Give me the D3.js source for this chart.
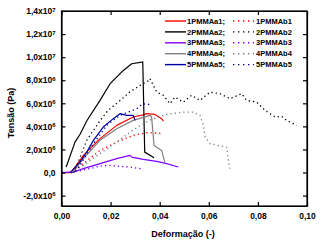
<!DOCTYPE html>
<html>
<head>
<meta charset="utf-8">
<script src="https://cdn.jsdelivr.net/npm/d3@7"></script>
<style>
  body { margin: 0; background: #fff; }
  svg { font-family: Arial, "Liberation Sans", sans-serif; font-weight: bold; }
  .axis path, .axis line { stroke: #000; stroke-width: 1.2; }
  .axis text { font-size: 8.5px; font-weight: bold; fill: #000; }
</style>
</head>
<body>
<div id="chart-area"></div>
<script>

// DATA

var seriesNames = ["1PMMAa1", "2PMMAa2", "3PMMAa3", "4PMMAa4", "5PMMAa5",
                   "1PMMAb1", "2PMMAb2", "3PMMAb3", "4PMMAb4", "5PMMAb5"];

var seriesColors = ["#ff0000", "#000000", "#8000ff", "#808080", "#0000a0"];

// strain (-), stress (Pa)
var a1 = [[0,0],[0.004,0],[0.0089,1.49e6],[0.0157,2.94e6],[0.0225,4.09e6],[0.0292,4.81e6],
          [0.0333,5.0e6],[0.0347,5.1e6],[0.0381,5.04e6],[0.0408,4.67e6],[0.0415,4.46e6]];
var a2 = [[0.0019,0.48e6],[0.0055,2.64e6],[0.0075,3.3e6],[0.0105,4.55e6],[0.0157,6.25e6],
          [0.0198,7.7e6],[0.0252,8.85e6],[0.0286,9.43e6],[0.0327,9.57e6],[0.0331,9.59e6],
          [0.0339,1.77e6],[0.0377,1.29e6]];
var a3 = [[0,0],[0.005,0.05e6],[0.0089,0.34e6],[0.0157,0.77e6],[0.0225,1.2e6],[0.0279,1.49e6],
          [0.0286,1.34e6],[0.0333,1.14e6],[0.0388,0.97e6],[0.0428,0.77e6],[0.0476,0.48e6]];
var a4 = [[0.0045,0],[0.0089,1.2e6],[0.0157,2.79e6],[0.0225,3.8e6],[0.0292,4.52e6],
          [0.0347,4.87e6],[0.0363,4.95e6],[0.0367,4.8e6],[0.0377,2.35e6],[0.0408,1.92e6],[0.0422,0.77e6]];
var a5 = [[0.0035,0],[0.0075,0.9e6],[0.0103,1.78e6],[0.013,2.79e6],[0.017,3.94e6],[0.0211,4.67e6],
          [0.0238,5.1e6],[0.0266,4.95e6],[0.0292,4.95e6],[0.030,4.52e6]];

var b1 = [[0.004,0],[0.0089,0.77e6],[0.0157,1.92e6],[0.0225,2.64e6],[0.0292,3.22e6],
          [0.0347,3.45e6],[0.0394,3.42e6],[0.041,3.35e6]];
var b2 = [[0.005,0],[0.0062,0.6e6],[0.0103,2.8e6],[0.0157,4.5e6],[0.019,5.4e6],[0.0231,6.1e6],
          [0.0279,7.0e6],[0.032,7.55e6],[0.0354,7.95e6],[0.036,8.15e6],[0.0388,6.97e6],
          [0.0415,6.69e6],[0.0442,5.97e6],[0.0462,6.54e6],[0.0496,6.1e6],[0.053,6.69e6],
          [0.0564,6.25e6],[0.0605,6.97e6],[0.0646,6.83e6],[0.0686,6.4e6],[0.0734,6.83e6],
          [0.0754,6.25e6],[0.0795,6.1e6],[0.0829,5.39e6],[0.087,4.81e6],[0.0897,4.87e6],
          [0.0917,4.52e6],[0.0958,4.09e6]];
var b3 = [[0.004,0],[0.0116,0.34e6],[0.0157,0.56e6],[0.0198,0.62e6],[0.0238,0.54e6],
          [0.0279,0.48e6],[0.032,0.34e6],[0.0333,0.19e6]];
var b4 = [[0.004,0],[0.0089,0.62e6],[0.0157,1.64e6],[0.0225,2.64e6],[0.0292,3.7e6],
          [0.036,4.55e6],[0.0428,5.04e6],[0.0496,5.24e6],[0.0537,5.24e6],[0.0564,4.95e6],
          [0.0578,4.09e6],[0.0585,3.07e6],[0.0605,2.5e6],[0.0673,2.2e6],[0.068,1.06e6],[0.0686,0.34e6]];
var b5 = [[0.004,0],[0.0062,0.19e6],[0.013,2.5e6],[0.0184,4.09e6],[0.0238,4.95e6],
          [0.0306,5.53e6],[0.0327,5.9e6],[0.0347,5.97e6],[0.0367,5.82e6]];

var seriesData = [a1, a2, a3, a4, a5, b1, b2, b3, b4, b5];

var xTicks = [0, 0.02, 0.04, 0.06, 0.08, 0.10];
var yTicks = [-2e6, 0, 2e6, 4e6, 6e6, 8e6, 1e7, 1.2e7, 1.4e7];


// CHART AREA

var margin = {top: 11, right: 13, bottom: 41, left: 61.5},
    width = 320 - margin.left - margin.right,
    height = 247 - margin.top - margin.bottom;

var svg = d3.select("#chart-area").append("svg")
    .attr("width", 320)
    .attr("height", 247)
    .append("g")
    .attr("transform", "translate(" + margin.left + "," + margin.top + ")");


// SCALES

var x = d3.scaleLinear()
    .domain([0, 0.1])
    .range([0, width]);

var y = d3.scaleLinear()
    .domain([-2.9e6, 1.4e7])
    .range([height, 0]);


// CURVES

var line = d3.line()
    .x(function(d) { return x(d[0]); })
    .y(function(d) { return y(d[1]); });

seriesData.forEach(function(data, i) {
    var dotted = i >= 5;
    svg.append("path")
        .datum(data)
        .attr("fill", "none")
        .attr("stroke", seriesColors[i % 5])
        .attr("stroke-width", dotted ? 1.3 : 1.2)
        .attr("stroke-dasharray", dotted ? "1.3,3" : null)
        .attr("stroke-linejoin", "round")
        .attr("d", line);
});


// AXES (ticks inside, mirrored)

function yLabel(sel) {
    sel.each(function(d) {
        var t = d3.select(this).text(null);
        if (d === 0) { t.text("0,0"); return; }
        var e = Math.floor(Math.log10(Math.abs(d)));
        var m = d / Math.pow(10, e);
        t.append("tspan").text(m.toFixed(1).replace(".", ",") + "x10");
        t.append("tspan").attr("dy", "-0.45em").style("font-size", "6px").text(e);
    });
}

var yAxisGroup = svg.append("g")
    .attr("class", "axis")
    .call(d3.axisLeft(y).tickValues(yTicks).tickSizeInner(-4).tickSizeOuter(0).tickPadding(6));
yAxisGroup.selectAll(".tick text").call(yLabel);

svg.append("g")
    .attr("class", "axis")
    .attr("transform", "translate(" + width + ",0)")
    .call(d3.axisRight(y).tickValues(yTicks).tickSizeInner(-4).tickSizeOuter(0).tickFormat(""));

svg.append("g")
    .attr("class", "axis")
    .attr("transform", "translate(0," + height + ")")
    .call(d3.axisBottom(x).tickValues(xTicks).tickSizeInner(-4).tickSizeOuter(0).tickPadding(7)
        .tickFormat(function(d) { return d3.format(".2f")(d).replace(".", ","); }));

svg.append("g")
    .attr("class", "axis")
    .call(d3.axisTop(x).tickValues(xTicks).tickSizeInner(-4).tickSizeOuter(0).tickFormat(""));

svg.append("rect")
    .attr("width", width)
    .attr("height", height)
    .attr("fill", "none")
    .attr("stroke", "#000")
    .attr("stroke-width", 1.2);


// AXIS TITLES

svg.append("text")
    .attr("transform", "translate(" + (14 - margin.left) + "," + (113 - margin.top) + ") rotate(-90)")
    .style("text-anchor", "middle")
    .style("font-size", "9px")
    .text("Tensão (Pa)");

svg.append("text")
    .attr("x", 183 - margin.left)
    .attr("y", 237 - margin.top)
    .style("text-anchor", "middle")
    .style("font-size", "9px")
    .text("Deformação (-)");


// LEGEND

var legend = svg.append("g")
    .attr("transform", "translate(" + (165 - margin.left) + "," + (21 - margin.top) + ")");

for (var i = 0; i < 5; i++) {
    var row = legend.append("g").attr("transform", "translate(0," + (i * 10.9) + ")");
    row.append("line")
        .attr("x1", 0).attr("x2", 21)
        .attr("stroke", seriesColors[i])
        .attr("stroke-width", 1.4);
    row.append("text")
        .attr("x", 22).attr("dy", "0.35em")
        .style("font-size", "7.5px")
        .text(seriesNames[i] + ";");
    row.append("line")
        .attr("x1", 68).attr("x2", 89)
        .attr("stroke", seriesColors[i])
        .attr("stroke-width", 1.4)
        .attr("stroke-dasharray", "1.4,3.6");
    row.append("text")
        .attr("x", 91).attr("dy", "0.35em")
        .style("font-size", "7.5px")
        .text(seriesNames[i + 5]);
}

</script>
</body>
</html>
